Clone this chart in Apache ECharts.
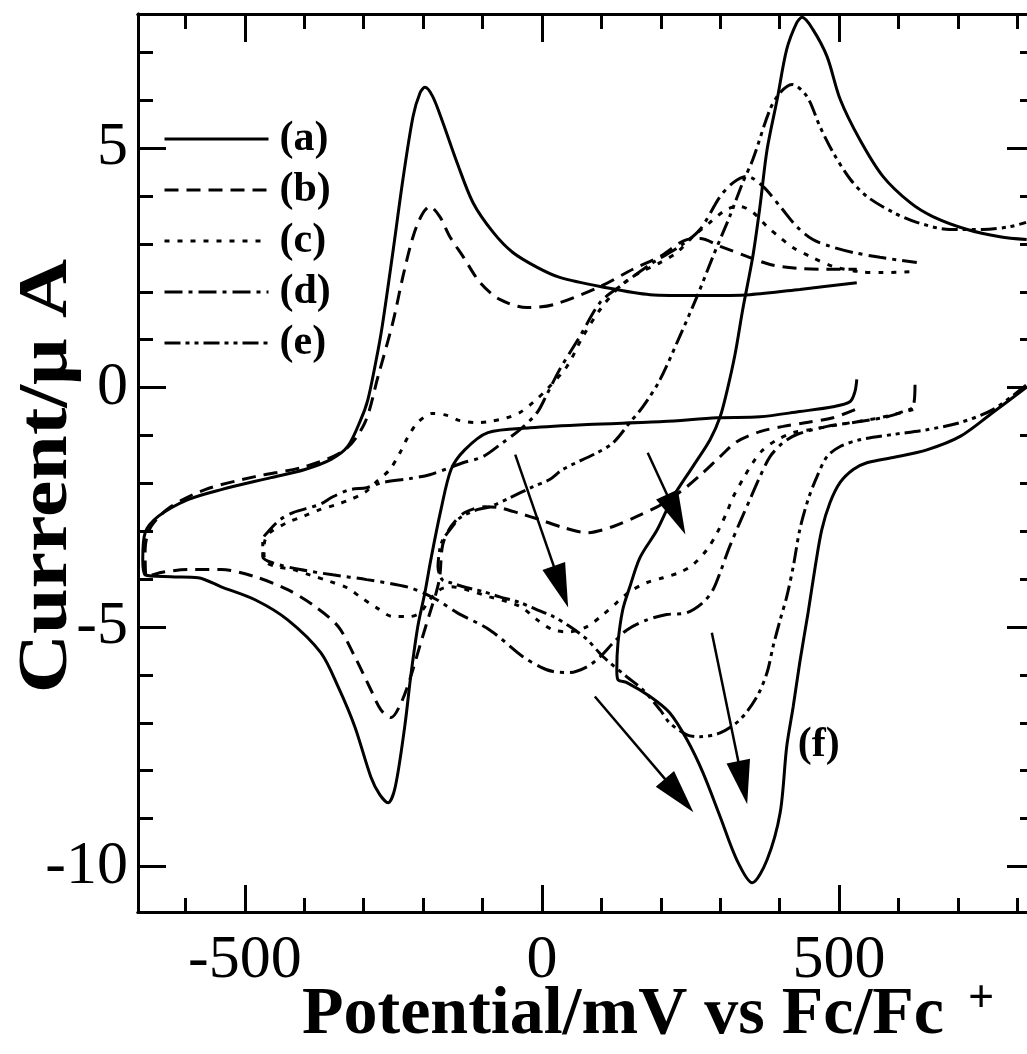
<!DOCTYPE html>
<html>
<head>
<meta charset="utf-8">
<title>CV</title>
<script src="https://cdn.jsdelivr.net/npm/echarts@6/dist/echarts.min.js"></script>
<style>
html,body{margin:0;padding:0;background:#fff;}
#main{width:1027px;height:1054px;}
</style>
</head>
<body>
<div id="main"></div>
<script>
// potential (mV vs Fc/Fc+), current (uA); each curve in scan order
var curveA = [[530,0.17],[527,-0.08],[519,-0.29],[490,-0.40],[434,-0.50],[367,-0.61],[295,-0.63],[204,-0.71],[77,-0.77],[-20,-0.84],[-91,-0.94],[-130,-1.30],[-153,-1.71],[-170,-2.55],[-187,-3.59],[-197,-4.28],[-209,-4.99],[-221,-6.04],[-231,-7.08],[-247,-8.34],[-259,-8.67],[-273,-8.50],[-288,-8.13],[-315,-7.08],[-343,-6.25],[-372,-5.54],[-428,-4.85],[-483,-4.43],[-540,-4.16],[-579,-3.97],[-625,-3.95],[-668,-3.91],[-672,-3.59],[-668,-3.03],[-646,-2.69],[-596,-2.34],[-540,-2.13],[-456,-1.88],[-399,-1.71],[-355,-1.50],[-327,-1.23],[-305,-0.67],[-293,-0.25],[-279,0.58],[-269,1.27],[-251,2.82],[-234,4.35],[-217,5.66],[-205,6.16],[-197,6.27],[-184,6.08],[-167,5.54],[-143,4.70],[-116,3.86],[-82,3.24],[-49,2.82],[-8,2.51],[30,2.30],[98,2.11],[182,1.94],[266,1.92],[350,1.94],[434,2.05],[530,2.19]];
var curveB = [[527,-0.46],[490,-0.63],[446,-0.73],[406,-0.81],[367,-0.92],[328,-1.13],[300,-1.44],[271,-1.78],[244,-2.07],[221,-2.28],[194,-2.49],[160,-2.69],[120,-2.90],[76,-3.03],[35,-2.92],[-3,-2.76],[-37,-2.63],[-71,-2.51],[-96,-2.49],[-130,-2.61],[-153,-2.90],[-167,-3.28],[-172,-3.95],[-178,-4.28],[-187,-4.64],[-204,-5.33],[-221,-6.04],[-237,-6.58],[-254,-6.89],[-271,-6.73],[-288,-6.31],[-315,-5.62],[-343,-4.99],[-382,-4.57],[-428,-4.22],[-483,-3.95],[-540,-3.80],[-596,-3.80],[-641,-3.86],[-666,-3.95],[-668,-3.38],[-658,-2.90],[-625,-2.49],[-567,-2.13],[-483,-1.86],[-399,-1.65],[-332,-1.30],[-298,-0.73],[-276,0.23],[-251,1.36],[-234,2.32],[-217,3.15],[-202,3.61],[-189,3.78],[-172,3.57],[-155,3.15],[-133,2.74],[-104,2.19],[-71,1.84],[-25,1.67],[19,1.73],[98,2.11],[153,2.47],[199,2.74],[244,3.09],[266,3.11],[300,2.95],[345,2.74],[384,2.57],[429,2.49],[468,2.47],[530,2.47]];
var curveC = [[625,-0.46],[569,-0.63],[502,-0.77],[451,-0.88],[423,-0.94],[396,-1.09],[372,-1.30],[355,-1.57],[338,-1.92],[322,-2.28],[311,-2.61],[295,-3.03],[278,-3.38],[254,-3.70],[232,-3.86],[204,-3.97],[177,-4.07],[148,-4.26],[126,-4.49],[103,-4.74],[76,-4.99],[47,-5.10],[19,-5.06],[-8,-4.85],[-37,-4.57],[-88,-4.37],[-155,-4.16],[-172,-4.22],[-189,-4.43],[-205,-4.70],[-222,-4.78],[-251,-4.78],[-278,-4.60],[-306,-4.37],[-328,-4.18],[-357,-4.05],[-391,-3.91],[-419,-3.80],[-446,-3.74],[-466,-3.63],[-468,-3.38],[-466,-3.18],[-458,-3.03],[-429,-2.82],[-402,-2.69],[-374,-2.55],[-345,-2.44],[-323,-2.34],[-298,-2.19],[-278,-1.96],[-256,-1.71],[-239,-1.36],[-226,-1.04],[-209,-0.73],[-185,-0.54],[-160,-0.58],[-138,-0.69],[-109,-0.73],[-88,-0.71],[-59,-0.63],[-37,-0.52],[-15,-0.31],[8,-0.04],[42,0.44],[69,1.07],[98,1.63],[126,2.05],[153,2.32],[199,2.61],[227,2.82],[254,3.15],[283,3.45],[311,3.72],[333,3.78],[355,3.66],[379,3.36],[401,3.13],[423,2.92],[451,2.74],[490,2.53],[535,2.42],[574,2.40],[625,2.42]];
var curveD = [[628,0.06],[625,-0.40],[608,-0.50],[581,-0.61],[535,-0.71],[480,-0.81],[429,-0.98],[406,-1.15],[384,-1.44],[367,-1.86],[350,-2.34],[333,-2.82],[316,-3.32],[300,-3.86],[288,-4.22],[271,-4.49],[244,-4.70],[210,-4.74],[177,-4.85],[143,-5.06],[120,-5.33],[98,-5.62],[76,-5.83],[47,-5.95],[19,-5.93],[-3,-5.83],[-32,-5.62],[-88,-5.06],[-143,-4.70],[-177,-4.43],[-222,-4.18],[-295,-4.01],[-352,-3.91],[-407,-3.80],[-453,-3.66],[-470,-3.53],[-470,-3.18],[-458,-2.97],[-441,-2.76],[-419,-2.61],[-374,-2.44],[-352,-2.28],[-323,-2.13],[-295,-2.09],[-268,-1.98],[-222,-1.90],[-189,-1.82],[-155,-1.67],[-133,-1.57],[-99,-1.44],[-66,-1.15],[-37,-0.88],[-8,-0.52],[8,-0.15],[30,0.38],[64,1.07],[98,1.78],[131,2.11],[187,2.61],[232,2.95],[266,3.30],[300,3.99],[322,4.28],[345,4.41],[372,4.20],[401,3.78],[429,3.36],[456,3.09],[485,2.95],[524,2.82],[569,2.72],[631,2.61]];
var curveE = [[815,0.05],[759,-0.46],[704,-0.73],[648,-0.88],[591,-0.98],[535,-1.09],[502,-1.23],[480,-1.44],[463,-1.86],[448,-2.34],[434,-2.97],[423,-3.74],[412,-4.37],[401,-4.85],[389,-5.41],[379,-5.95],[362,-6.45],[333,-6.94],[300,-7.21],[266,-7.29],[244,-7.25],[215,-7.00],[199,-6.73],[170,-6.31],[143,-6.04],[103,-5.62],[76,-5.26],[47,-4.99],[19,-4.78],[-8,-4.64],[-37,-4.49],[-71,-4.37],[-99,-4.26],[-126,-4.18],[-155,-4.07],[-168,-4.01],[-175,-3.74],[-172,-3.38],[-167,-3.18],[-155,-2.97],[-138,-2.72],[-109,-2.55],[-88,-2.49],[-54,-2.30],[-15,-2.07],[13,-1.92],[35,-1.71],[93,-1.36],[120,-1.15],[148,-0.73],[170,-0.40],[199,0.17],[232,1.07],[261,1.90],[288,2.74],[316,3.57],[338,4.28],[355,4.76],[384,5.81],[401,6.16],[421,6.33],[446,6.08],[468,5.45],[490,4.91],[519,4.35],[547,3.99],[591,3.66],[631,3.45],[687,3.30],[742,3.30],[788,3.36],[815,3.45]];
var curveF = [[815,0.0],[759,-0.52],[704,-1.02],[648,-1.30],[591,-1.46],[547,-1.57],[524,-1.71],[502,-1.98],[485,-2.40],[471,-2.97],[460,-3.74],[448,-4.70],[434,-5.74],[423,-6.66],[412,-7.50],[401,-8.88],[379,-9.86],[354,-10.34],[328,-9.86],[300,-8.96],[271,-8.04],[244,-7.35],[215,-6.79],[182,-6.45],[143,-6.16],[128,-6.10],[126,-5.89],[128,-5.33],[136,-4.64],[148,-4.16],[165,-3.55],[194,-2.97],[221,-2.28],[254,-1.65],[283,-1.09],[300,-0.61],[311,-0.10],[325,0.69],[338,1.63],[355,2.74],[367,3.78],[379,4.97],[396,6.02],[412,7.06],[429,7.62],[438,7.73],[456,7.48],[480,6.91],[502,6.02],[535,5.18],[574,4.41],[620,3.86],[658,3.57],[716,3.30],[771,3.15],[816,3.09]];

var curveNames = ['(a)', '(b)', '(c)', '(d)', '(e)', '(f)'];
var xMajorTicks = [-500, 0, 500];
var xMinorTicks = [-600, -500, -400, -300, -200, -100, 0, 100, 200, 300, 400, 500, 600, 700, 800];
var yMajorTicks = [-10, -5, 0, 5];
var yMinorTicks = [-10, -9, -8, -7, -6, -5, -4, -3, -2, -1, 0, 1, 2, 3, 4, 5, 6, 7];
// arrows: [tail, head centre]
var arrowLines = [
    [[-45, -1.40], [32, -4.16]],
    [[178, -1.36], [226, -2.65]],
    [[89, -6.45], [231, -8.52]],
    [[286, -5.12], [338, -8.25]]
];
var labelF = [466, -7.46];

var X_MIN = -680, X_MAX = 830, Y_MIN = -10.95, Y_MAX = 7.8;
var FONT = 'Liberation Serif';

function axis(dim, pos, ticks, len, showLabel){
    return {
        type: 'value',
        position: pos,
        min: dim === 'x' ? X_MIN : Y_MIN,
        max: dim === 'x' ? X_MAX : Y_MAX,
        axisLine: {show: true, onZero: false, lineStyle: {color: '#000', width: 3}},
        axisTick: {show: true, inside: true, length: len, customValues: ticks, lineStyle: {color: '#000', width: 3}},
        axisLabel: {
            show: showLabel,
            customValues: ticks,
            margin: dim === 'x' ? 18 : 10,
            color: '#000',
            fontSize: 62,
            fontFamily: FONT
        },
        splitLine: {show: false}
    };
}

function curve(i, data, dash){
    return {
        name: curveNames[i],
        type: 'line',
        data: data,
        smooth: 0.3,
        symbol: 'none',
        animation: false,
        lineStyle: {color: '#000', width: 3, type: dash, cap: 'butt'}
    };
}

var series = [
    curve(0, curveA, 'solid'),
    curve(1, curveB, [14, 8]),
    curve(2, curveC, [5, 8]),
    curve(3, curveD, [18, 6, 4, 6]),
    curve(4, curveE, [16, 5, 4, 5, 4, 5]),
    curve(5, curveF, 'solid')
];
series[5].markLine = {
    silent: true,
    animation: false,
    symbol: ['none', 'triangle'],
    symbolSize: [24, 44],
    label: {show: false},
    lineStyle: {color: '#000', width: 2.5, type: 'solid'},
    emphasis: {disabled: true},
    data: arrowLines.map(function(a){
        return [{coord: a[0]}, {coord: a[1]}];
    })
};
series[5].markPoint = {
    silent: true,
    animation: false,
    symbol: 'rect',
    symbolSize: 1,
    itemStyle: {color: 'rgba(0,0,0,0)'},
    label: {show: true, position: 'inside', formatter: '(f)', color: '#000', fontSize: 42, fontWeight: 'bold', fontFamily: FONT},
    data: [{coord: labelF}]
};

var chart = echarts.init(document.getElementById('main'), null, {renderer: 'canvas'});
chart.setOption({
    animation: false,
    backgroundColor: '#fff',
    grid: {left: 138, right: -8, top: 14, bottom: 142, containLabel: false, outerBoundsMode: 'none'},
    legend: {
        data: curveNames.slice(0, 5),
        orient: 'vertical',
        left: 163,
        top: 116,
        padding: 0,
        itemWidth: 104,
        itemHeight: 3,
        itemGap: 5,
        selectedMode: false,
        itemStyle: {opacity: 0},
        lineStyle: {width: 3},
        textStyle: {color: '#000', fontSize: 42, fontWeight: 'bold', fontFamily: FONT, lineHeight: 46, padding: [0, 0, 0, 6]}
    },
    xAxis: [
        axis('x', 'bottom', xMajorTicks, 27, true),
        axis('x', 'bottom', xMinorTicks, 14, false),
        axis('x', 'top', xMajorTicks, 28, false),
        axis('x', 'top', xMinorTicks, 15, false)
    ],
    yAxis: [
        axis('y', 'left', yMajorTicks, 28, true),
        axis('y', 'left', yMinorTicks, 15, false),
        axis('y', 'right', yMajorTicks, 28, false),
        axis('y', 'right', yMinorTicks, 15, false)
    ],
    graphic: [
        {type: 'text', x: 302, y: 1015, style: {text: 'Potential/mV vs Fc/Fc', fill: '#000', fontSize: 68, fontWeight: 'bold', fontFamily: FONT, align: 'left', verticalAlign: 'middle'}},
        {type: 'text', x: 981, y: 1000, style: {text: '+', fill: '#000', fontSize: 46, fontWeight: 'bold', fontFamily: FONT, align: 'center', verticalAlign: 'middle'}},
        {type: 'text', x: 48, y: 476, rotation: Math.PI / 2, scaleX: 1, scaleY: 0.86, style: {text: 'Current/\u03bc A', fill: '#000', fontSize: 82, fontWeight: 'bold', fontFamily: FONT, align: 'center', verticalAlign: 'middle'}}
    ],
    series: series
});
</script>
</body>
</html>
